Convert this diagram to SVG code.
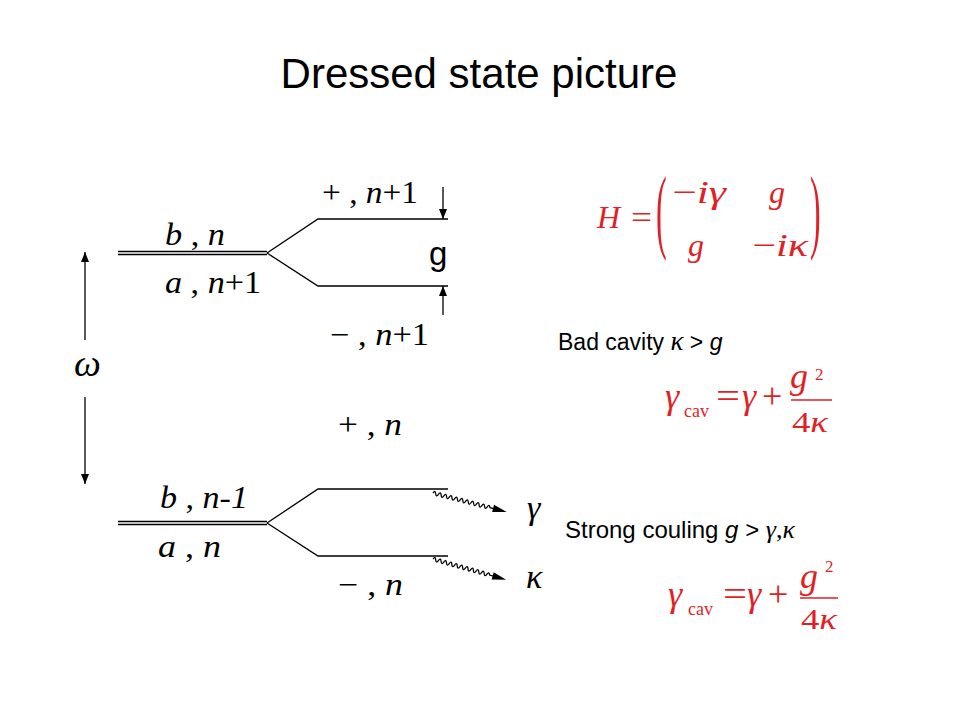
<svg xmlns="http://www.w3.org/2000/svg" width="960" height="720" viewBox="0 0 960 720">
<style>
.lv{stroke:#000;stroke-width:1.3;fill:none}
.ar{stroke:#000;stroke-width:1.3;fill:none;marker-end:url(#ah)}
.m{font-family:"Liberation Serif","Times New Roman",serif;fill:#000}
.i{font-style:italic}
.sans{font-family:"Liberation Sans",Arial,sans-serif;fill:#000}
.red{font-family:"Liberation Serif","Times New Roman",serif;fill:#e01f26}
.wave{stroke:#000;stroke-width:1.3;fill:none}
</style>
<defs>
<marker id="ah" viewBox="0 0 10 8" refX="10" refY="4" markerWidth="10" markerHeight="8" markerUnits="userSpaceOnUse" orient="auto">
<path d="M0,0 L10,4 L0,8 Z" fill="#000"/>
</marker>
<g id="wv">
<path class="wave" d="M0,0 q1.4,-3.8 2.8,0 t2.8,0 t2.8,0 t2.8,0 t2.8,0 t2.8,0 t2.8,0 t2.8,0 t2.8,0 t2.8,0 t2.8,0 t2.8,0 t2.8,0 t2.8,0 t2.8,0 t2.8,0 t2.8,0 t2.8,0 t2.8,0 t2.8,0 t2.8,0 l4,0"/>
<path d="M62,-3.8 L76,0 L62,3.8 Z" fill="#000"/>
</g>
</defs>
<rect width="960" height="720" fill="#fff"/>

<g id="title">
<text class="sans" x="479" y="88" font-size="42" text-anchor="middle">Dressed state picture</text>
</g>

<g id="upper-levels">
<line class="lv" x1="118" y1="251.5" x2="267" y2="251.5"/>
<line class="lv" x1="118" y1="254.5" x2="267" y2="254.5"/>
<polyline class="lv" points="267,253 318,219 448,219"/>
<polyline class="lv" points="267,253 318,286 448,286"/>
</g>
<g id="lower-levels">
<line class="lv" x1="118" y1="521.5" x2="267" y2="521.5"/>
<line class="lv" x1="118" y1="524.5" x2="267" y2="524.5"/>
<polyline class="lv" points="267,523 318,489 448,489"/>
<polyline class="lv" points="267,523 318,556 448,556"/>
</g>

<g id="connectors">
<line class="ar" x1="443" y1="187" x2="443" y2="219"/>
<line class="ar" x1="443" y1="315" x2="443" y2="286"/>
<line class="ar" x1="85" y1="340" x2="85" y2="252"/>
<line class="ar" x1="85" y1="397" x2="85" y2="484"/>
<use href="#wv" transform="translate(433,493) rotate(14.4)"/>
<use href="#wv" transform="translate(433,559) rotate(15.8)"/>
</g>

<g id="upper-labels">
<text class="m" font-size="31" x="322" y="203" textLength="96" lengthAdjust="spacingAndGlyphs">+ , <tspan class="i">n</tspan>+1</text>
<text class="m" font-size="31" x="165" y="245" textLength="60" lengthAdjust="spacingAndGlyphs"><tspan class="i">b</tspan> , <tspan class="i">n</tspan></text>
<text class="m" font-size="31" x="165" y="293" textLength="96" lengthAdjust="spacingAndGlyphs"><tspan class="i">a</tspan> , <tspan class="i">n</tspan>+1</text>
<text class="m" font-size="31" x="330" y="345" textLength="99" lengthAdjust="spacingAndGlyphs">− , <tspan class="i">n</tspan>+1</text>
<text class="sans" x="429" y="265" font-size="33">g</text>
</g>

<g id="omega">
<text class="m i" x="74" y="376" font-size="38">ω</text>
</g>

<g id="lower-labels">
<text class="m" font-size="31" x="338" y="435" textLength="64" lengthAdjust="spacingAndGlyphs">+ , <tspan class="i">n</tspan></text>
<text class="m" font-size="31" x="160" y="508" textLength="88" lengthAdjust="spacingAndGlyphs"><tspan class="i">b</tspan> , <tspan class="i">n-1</tspan></text>
<text class="m" font-size="31" x="158" y="557" textLength="63" lengthAdjust="spacingAndGlyphs"><tspan class="i">a</tspan> , <tspan class="i">n</tspan></text>
<text class="m" font-size="31" x="338" y="595" textLength="65" lengthAdjust="spacingAndGlyphs">− , <tspan class="i">n</tspan></text>
<text class="m i" x="527" y="519" font-size="34">γ</text>
<text class="m i" x="526" y="588" font-size="34">κ</text>
</g>

<g id="hamiltonian">
<text class="red i" x="597" y="228" font-size="32">H</text>
<text class="red" x="631" y="228" font-size="32" textLength="21" lengthAdjust="spacingAndGlyphs">=</text>
<text class="red" font-size="32" transform="translate(656,241) scale(1,2.9)">(</text>
<text class="red" font-size="32" x="672" y="203" textLength="54" lengthAdjust="spacingAndGlyphs">−<tspan class="i">iγ</tspan></text>
<text class="red i" font-size="32" x="769" y="203">g</text>
<text class="red i" font-size="32" x="688" y="256">g</text>
<text class="red" font-size="32" x="752" y="256" textLength="56" lengthAdjust="spacingAndGlyphs">−<tspan class="i">iκ</tspan></text>
<text class="red" font-size="32" transform="translate(810,241) scale(1,2.9)">)</text>
</g>

<g id="bad-cavity">
<text class="sans" x="558" y="350" font-size="23">Bad cavity <tspan class="m i" font-size="27">κ</tspan> &gt; <tspan font-style="italic">g</tspan></text>
</g>

<g id="formula-1">
<text class="red i" x="665" y="408" font-size="36">γ</text>
<text class="red" x="684" y="417" font-size="18">cav</text>
<text class="red" x="716" y="408" font-size="36" textLength="24" lengthAdjust="spacingAndGlyphs">=</text>
<text class="red i" x="742" y="408" font-size="36">γ</text>
<text class="red" x="762" y="408" font-size="36">+</text>
<text class="red i" x="790" y="388" font-size="36">g</text>
<text class="red" x="815" y="380" font-size="17">2</text>
<line x1="791" y1="400" x2="832" y2="400" stroke="#e01f26" stroke-width="1.6"/>
<text class="red" x="792" y="432" font-size="30" textLength="36" lengthAdjust="spacingAndGlyphs">4<tspan class="i">κ</tspan></text>
</g>

<g id="strong-coupling">
<text class="sans" x="565" y="538" font-size="24">Strong couling <tspan font-style="italic">g</tspan> &gt; <tspan class="m i" font-size="26">γ</tspan><tspan class="m" font-size="26">,</tspan><tspan class="m i" font-size="26">κ</tspan></text>
</g>

<g id="formula-2">
<text class="red i" x="668" y="606" font-size="36">γ</text>
<text class="red" x="688" y="615" font-size="18">cav</text>
<text class="red" x="723" y="606" font-size="36" textLength="24" lengthAdjust="spacingAndGlyphs">=</text>
<text class="red i" x="747" y="606" font-size="36">γ</text>
<text class="red" x="768" y="606" font-size="36">+</text>
<text class="red i" x="800" y="588" font-size="36">g</text>
<text class="red" x="825" y="572" font-size="17">2</text>
<line x1="800" y1="598" x2="838" y2="598" stroke="#e01f26" stroke-width="1.6"/>
<text class="red" x="801" y="629" font-size="30" textLength="36" lengthAdjust="spacingAndGlyphs">4<tspan class="i">κ</tspan></text>
</g>
</svg>
